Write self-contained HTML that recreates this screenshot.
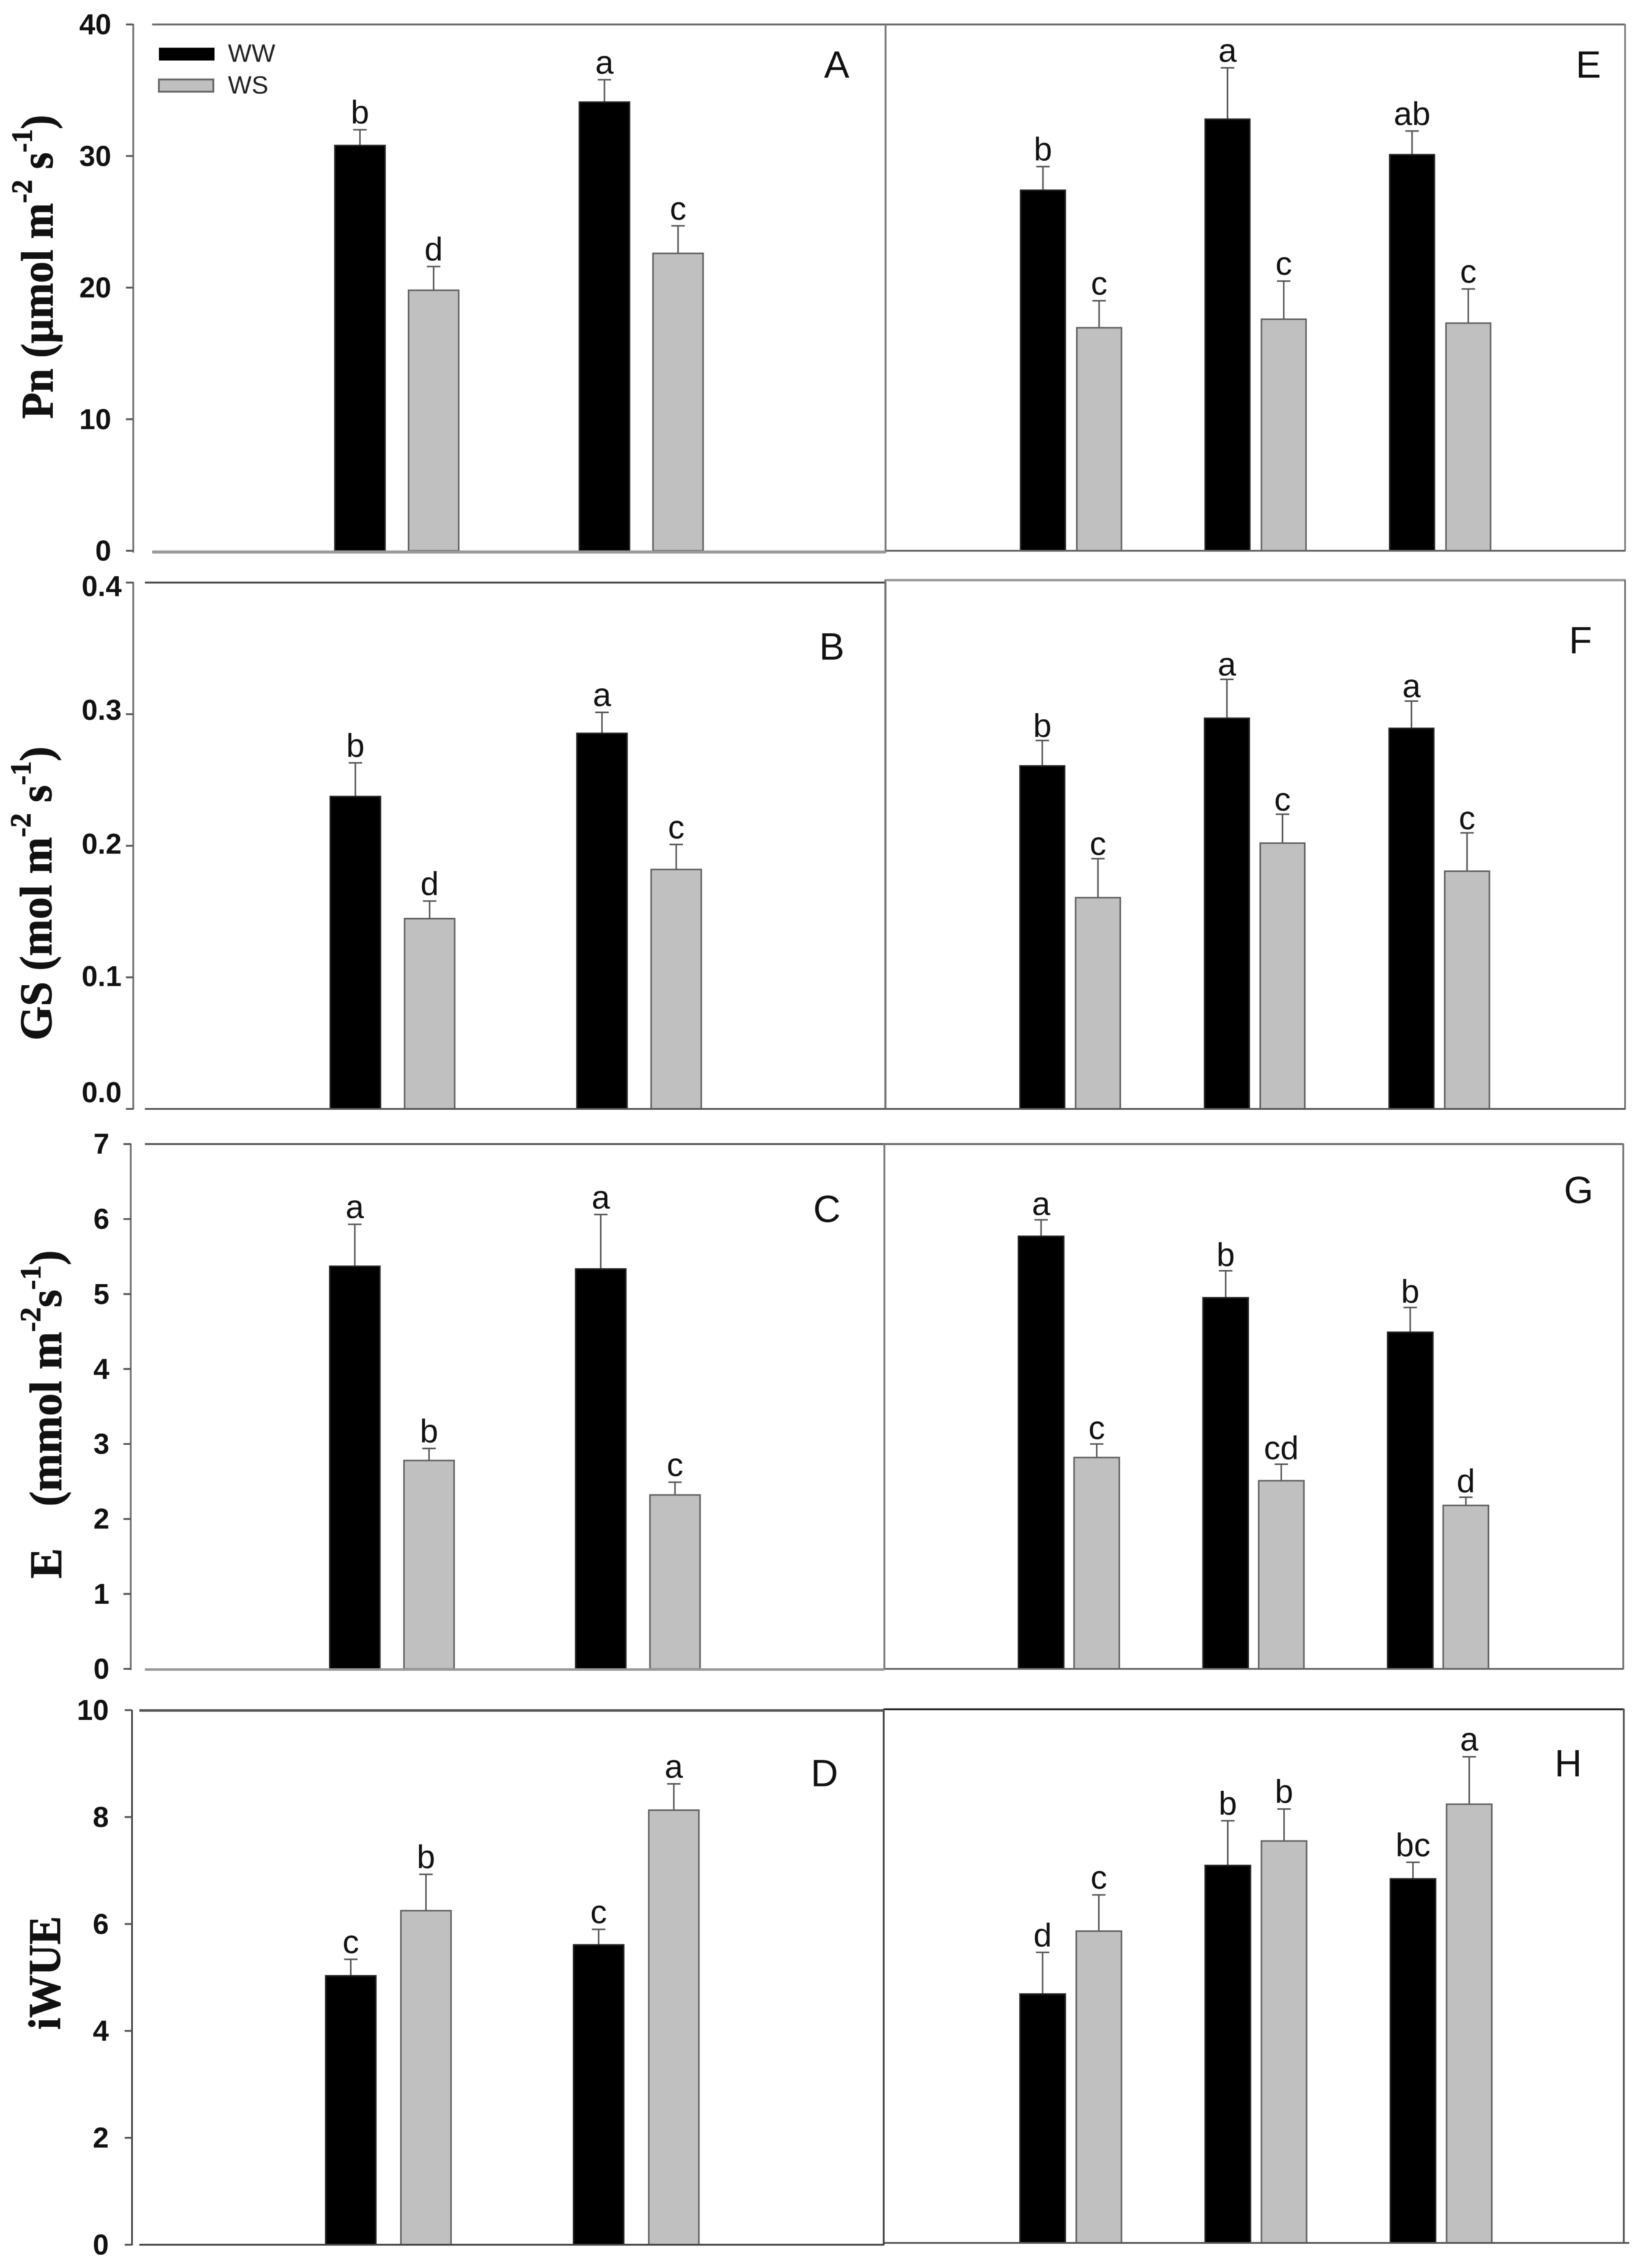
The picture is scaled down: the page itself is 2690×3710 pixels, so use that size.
<!DOCTYPE html>
<html lang="en">
<head>
<meta charset="utf-8">
<title>Gas exchange bar charts</title>
<style>
html,body{margin:0;padding:0;background:#fff;}
svg{display:block;filter:blur(0.6px);}
.tick{font:bold 47px "Liberation Sans",sans-serif;fill:#111;}
.lab{font:54px "Liberation Sans",sans-serif;fill:#111;text-anchor:middle;}
.pl{font:62px "Liberation Sans",sans-serif;fill:#111;text-anchor:middle;}
.leg{font:41px "Liberation Sans",sans-serif;fill:#222;}
.yt{font:bold 74px "Liberation Serif",serif;fill:#111;stroke:#111;stroke-width:1;}
.yt tspan.s{font-size:48px;}
</style>
</head>
<body>
<svg id="fig" xmlns="http://www.w3.org/2000/svg" width="2690" height="3710" viewBox="0 0 2690 3710">
<rect x="0" y="0" width="2690" height="3710" fill="#fff"/>
<text class="yt" transform="translate(86,685) rotate(-90) scale(0.95,1)">Pn (µmol m<tspan class="s" dy="-34">-2</tspan><tspan dy="34"> s</tspan><tspan class="s" dy="-34">-1</tspan><tspan dy="34">)</tspan></text>
<text class="yt" transform="translate(84,1702) rotate(-90) scale(0.975,1)">GS (mol m<tspan class="s" dy="-34">-2</tspan><tspan dy="34"> s</tspan><tspan class="s" dy="-34">-1</tspan><tspan dy="34">)</tspan></text>
<text class="yt" transform="translate(100,2582) rotate(-90)">E <tspan dx="50">(mmol m</tspan><tspan class="s" dy="-34">-2</tspan><tspan dy="34">s</tspan><tspan class="s" dy="-34">-1</tspan><tspan dy="34">)</tspan></text>
<text class="yt" transform="translate(98,3320) rotate(-90) scale(0.94,1)">iWUE</text>
<g>
<rect x="260" y="78" width="91" height="21" fill="#000"/>
<text class="leg" x="373" y="101">WW</text>
<rect x="260" y="130" width="89" height="20" fill="#c0c0c0" stroke="#666" stroke-width="3"/>
<text class="leg" x="373" y="153">WS</text>
</g>
</svg>
<script>
// Tick labels
const ticksPn = ['0','10','20','30','40'];
const ticksGs = ['0.0','0.1','0.2','0.3','0.4'];
const ticksE = ['0','1','2','3','4','5','6','7'];
const ticksWue = ['0','2','4','6','8','10'];

// Panel A
const aWW = [30.8, 34.1];
const aWS = [19.8, 22.6];
const aWWerr = [1.2, 1.7];
const aWSerr = [1.8, 2.1];
const aWWsig = ['b','a'];
const aWSsig = ['d','c'];
// Panel B
const bWW = [0.2374, 0.2854];
const bWS = [0.1446, 0.182];
const bWWerr = [0.0256, 0.016];
const bWSerr = [0.0134, 0.019];
const bWWsig = ['b','a'];
const bWSsig = ['d','c'];
// Panel C
const cWW = [5.37, 5.335];
const cWS = [2.78, 2.32];
const cWWerr = [0.56, 0.725];
const cWSerr = [0.16, 0.17];
const cWWsig = ['a','a'];
const cWSsig = ['b','c'];
// Panel D
const dWW = [5.03, 5.61];
const dWS = [6.25, 8.13];
const dWWerr = [0.31, 0.29];
const dWSerr = [0.68, 0.49];
const dWWsig = ['c','c'];
const dWSsig = ['b','a'];
// Panel E
const eWW = [27.4, 32.8, 30.1];
const eWS = [16.95, 17.6, 17.3];
const eWWerr = [1.8, 3.9, 1.8];
const eWSerr = [2.05, 2.9, 2.6];
const eWWsig = ['b','a','ab'];
const eWSsig = ['c','c','c'];
// Panel F
const fWW = [0.2607, 0.2969, 0.2892];
const fWS = [0.1606, 0.202, 0.1807];
const fWWerr = [0.0193, 0.0296, 0.0208];
const fWSerr = [0.0296, 0.022, 0.0291];
const fWWsig = ['b','a','a'];
const fWSsig = ['c','c','c'];
// Panel G
const gWW = [5.77, 4.95, 4.49];
const gWS = [2.82, 2.51, 2.18];
const gWWerr = [0.22, 0.36, 0.33];
const gWSerr = [0.18, 0.22, 0.11];
const gWWsig = ['a','b','b'];
const gWSsig = ['c','cd','d'];
// Panel H
const hWW = [4.67, 7.08, 6.83];
const hWS = [5.85, 7.54, 8.23];
const hWWerr = [0.78, 0.84, 0.31];
const hWSerr = [0.68, 0.6, 0.89];
const hWWsig = ['d','b','bc'];
const hWSsig = ['c','b','a'];

const svg = document.getElementById('fig');
const NS = 'http://www.w3.org/2000/svg';

function line(parent, x1, y1, x2, y2, color, width, name) {
  const el = document.createElementNS(NS, 'line');
  
  
  el.setAttribute('x1', x1);
  el.setAttribute('y1', y1);
  el.setAttribute('x2', x2);
  el.setAttribute('y2', y2);
  el.setAttribute('stroke', color);
  el.setAttribute('stroke-width', width);
  parent.appendChild(el);
}

function label(parent, cls, x, y, str, name, anchor) {
  const el = document.createElementNS(NS, 'text');
  
  
  el.setAttribute('class', cls);
  el.setAttribute('x', x);
  el.setAttribute('y', y);
  if (anchor) el.setAttribute('text-anchor', anchor);
  el.textContent = str;
  parent.appendChild(el);
}

function drawPanel(p) {
  const g = document.createElementNS(NS, 'g');
  
  
  svg.appendChild(g);

  const tickMax = parseFloat(p.ticks[p.ticks.length - 1]);
  const yScale = v => p.yZero - (v / tickMax) * (p.yZero - p.yMax);
  const barX = (grp, ser) => p.barStart + grp * p.groupStep + ser * p.seriesStep;

  // frame
  line(g, p.lineStart, p.yTopLine, p.xRight, p.yTopLine, p.topColor, p.topWidth, 'frame-top-' + p.id);
  line(g, p.xLeft, p.yTopLine - 1, p.xLeft, p.yBottomLine + 1, p.sideColor, 3, 'frame-left-' + p.id);
  line(g, p.xRight, p.yTopLine - 1, p.xRight, p.yBottomLine + 1, p.sideColor, 3, 'frame-right-' + p.id);

  // y axis ticks and labels (left-column panels only)
  if (p.showTicks) {
    p.ticks.forEach(t => {
      const v = parseFloat(t);
      const y = yScale(v);
      line(g, p.xLeft - 12, y, p.xLeft, y, '#555', 3, 'y-tick-' + p.id + '-' + t);
      const shift = (p.labelShift && p.labelShift[t]) || 0;
      label(g, 'tick', p.tickRight, y + 16 + shift, t, 'y-tick-label-' + p.id + '-' + t, 'end');
    });
  }

  // bars, whiskers, significance letters
  const drawSeries = (vals, errs, sigs, ser, serName) => {
    vals.forEach((v, i) => {
      const x = barX(i, ser);
      const top = yScale(v);
      const cx = x + p.barWidth / 2;
      const errTop = yScale(v + errs[i]);
      line(g, cx, top, cx, errTop, '#555', 2.5, 'error-bar-' + p.id + '-' + serName + '-' + i);
      line(g, cx - 11, errTop, cx + 11, errTop, '#555', 2.5, 'error-cap-' + p.id + '-' + serName + '-' + i);

      const bar = document.createElementNS(NS, 'rect');
      
      
      bar.setAttribute('x', x);
      bar.setAttribute('y', top);
      bar.setAttribute('width', p.barWidth);
      bar.setAttribute('height', yScale(0) - top);
      bar.setAttribute('fill', ser === 0 ? '#000' : '#c0c0c0');
      bar.setAttribute('stroke', ser === 0 ? '#222' : '#5f5f5f');
      bar.setAttribute('stroke-width', 2.5);
      g.appendChild(bar);

      label(g, 'lab', cx, errTop - p.sigGap, sigs[i], 'significance-' + p.id + '-' + serName + '-' + i);
    });
  };
  drawSeries(p.ww, p.wwErr, p.wwSig, 0, 'ww');
  drawSeries(p.ws, p.wsErr, p.wsSig, 1, 'ws');

  // bottom axis drawn last, over bar feet
  line(g, p.lineStart, p.yBottomLine, p.xBottomEnd || p.xRight, p.yBottomLine, p.bottomColor, p.bottomWidth, 'frame-bottom-' + p.id);

  label(g, 'pl', p.letterX, p.letterY, p.letter, 'panel-letter-' + p.id);
}

drawPanel({ id:'e', letter:'E', letterX:2599, letterY:127, ticks:ticksPn, showTicks:false,
  xLeft:1449, xRight:2659, lineStart:1449, yMax:40, yZero:901, yTopLine:40, yBottomLine:901,
  topColor:'#666', topWidth:3, sideColor:'#808080', bottomColor:'#666', bottomWidth:3,
  barStart:1670, groupStep:302, seriesStep:92, barWidth:73, sigGap:10,
  ww:eWW, ws:eWS, wwErr:eWWerr, wsErr:eWSerr, wwSig:eWWsig, wsSig:eWSsig });

drawPanel({ id:'a', letter:'A', letterX:1369, letterY:127, ticks:ticksPn, showTicks:true, tickRight:182,
  xLeft:218, xRight:1449, lineStart:249, yMax:40, yZero:901, yTopLine:40, yBottomLine:903,
  topColor:'#666', topWidth:3, sideColor:'#777', bottomColor:'#999', bottomWidth:5,
  barStart:548, groupStep:400, seriesStep:120.5, barWidth:82, sigGap:10,
  ww:aWW, ws:aWS, wwErr:aWWerr, wsErr:aWSerr, wwSig:aWWsig, wsSig:aWSsig });

drawPanel({ id:'f', letter:'F', letterX:2586, letterY:1069, ticks:ticksGs, showTicks:false,
  xLeft:1448.5, xRight:2659, lineStart:1448.5, yMax:953, yZero:1814, yTopLine:949, yBottomLine:1814,
  topColor:'#999', topWidth:4, sideColor:'#777', bottomColor:'#555', bottomWidth:3,
  barStart:1669, groupStep:302, seriesStep:91, barWidth:73, sigGap:6,
  ww:fWW, ws:fWS, wwErr:fWWerr, wsErr:fWSerr, wwSig:fWWsig, wsSig:fWSsig });

drawPanel({ id:'b', letter:'B', letterX:1361, letterY:1079, ticks:ticksGs, showTicks:true, tickRight:199,
  labelShift:{'0.4':6,'0.3':-7,'0.2':-3,'0.1':-2,'0.0':-27},
  xLeft:218, xRight:1449, lineStart:237, yMax:953, yZero:1814, yTopLine:953, yBottomLine:1814,
  topColor:'#444', topWidth:3, sideColor:'#777', bottomColor:'#555', bottomWidth:3,
  barStart:540.5, groupStep:403.5, seriesStep:121.5, barWidth:82, sigGap:10,
  ww:bWW, ws:bWS, wwErr:bWWerr, wsErr:bWSerr, wwSig:bWWsig, wsSig:bWSsig });

drawPanel({ id:'g', letter:'G', letterX:2583, letterY:1968, ticks:ticksE, showTicks:false,
  xLeft:1447, xRight:2656, lineStart:1447, yMax:1871.5, yZero:2730, yTopLine:1871.5, yBottomLine:2730,
  topColor:'#666', topWidth:3, sideColor:'#777', bottomColor:'#666', bottomWidth:3,
  barStart:1666.5, groupStep:302, seriesStep:91, barWidth:74, sigGap:8,
  ww:gWW, ws:gWS, wwErr:gWWerr, wsErr:gWSerr, wwSig:gWWsig, wsSig:gWSsig });

drawPanel({ id:'c', letter:'C', letterX:1353, letterY:1999, ticks:ticksE, showTicks:true, tickRight:179,
  xLeft:214, xRight:1447, lineStart:237, yMax:1871.5, yZero:2730, yTopLine:1871.5, yBottomLine:2731,
  topColor:'#555', topWidth:3, sideColor:'#777', bottomColor:'#999', bottomWidth:4,
  barStart:539.5, groupStep:402.5, seriesStep:121.5, barWidth:82, sigGap:10,
  ww:cWW, ws:cWS, wwErr:cWWerr, wsErr:cWSerr, wwSig:cWWsig, wsSig:cWSsig });

drawPanel({ id:'h', letter:'H', letterX:2566, letterY:2906, ticks:ticksWue, showTicks:false,
  xLeft:1446, xRight:2657, xBottomEnd:2666, lineStart:1446, yMax:2797, yZero:3669, yTopLine:2796, yBottomLine:3669,
  topColor:'#222', topWidth:3, sideColor:'#555', bottomColor:'#555', bottomWidth:3,
  barStart:1669, groupStep:303, seriesStep:92, barWidth:74, sigGap:10,
  ww:hWW, ws:hWS, wwErr:hWWerr, wsErr:hWSerr, wwSig:hWWsig, wsSig:hWSsig });

drawPanel({ id:'d', letter:'D', letterX:1349, letterY:2922, ticks:ticksWue, showTicks:true, tickRight:178,
  xLeft:216, xRight:1446, lineStart:228, yMax:2797.5, yZero:3672, yTopLine:2798, yBottomLine:3672,
  topColor:'#555', topWidth:4, sideColor:'#444', bottomColor:'#444', bottomWidth:3,
  barStart:533, groupStep:405.5, seriesStep:123, barWidth:82, sigGap:10,
  ww:dWW, ws:dWS, wwErr:dWWerr, wsErr:dWSerr, wwSig:dWWsig, wsSig:dWSsig });
</script>
</body>
</html>
